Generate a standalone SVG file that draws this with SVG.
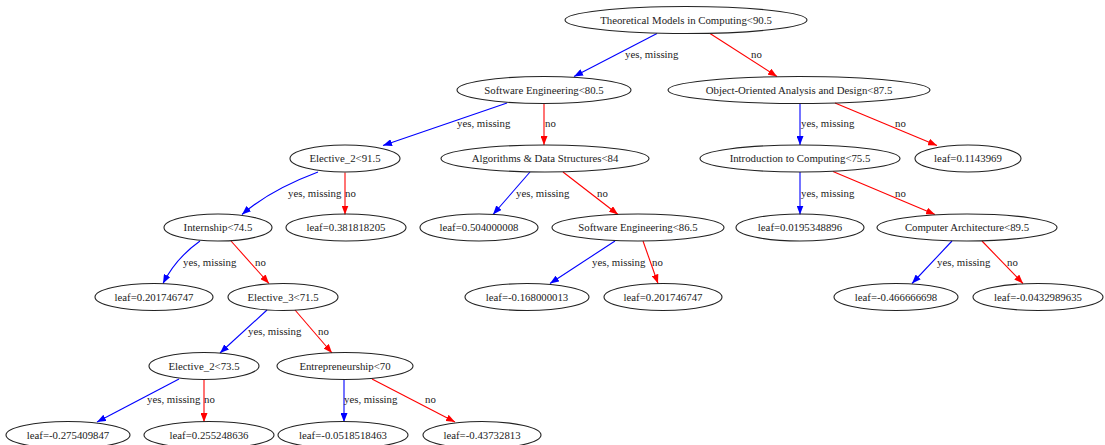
<svg xmlns="http://www.w3.org/2000/svg" width="1105" height="445" viewBox="0 0 1105 445">
<defs>
<style>
.n ellipse{fill:none;stroke:#222;stroke-width:1.1}
.n text{font-family:"Liberation Serif","Times New Roman",serif;font-size:10.8px;fill:#222;text-anchor:middle}
.e path{fill:none;stroke-width:1.1}
.b{stroke:#0000ff}
.r{stroke:#ff0000}
.e text{font-family:"Liberation Serif","Times New Roman",serif;font-size:10.8px;fill:#222}
</style>
<marker id="ab" markerUnits="userSpaceOnUse" markerWidth="9" markerHeight="7" refX="9" refY="3.5" orient="auto"><path d="M0,0 L9,3.5 L0,7 z" fill="#0000ff"/></marker>
<marker id="ar" markerUnits="userSpaceOnUse" markerWidth="9" markerHeight="7" refX="9" refY="3.5" orient="auto"><path d="M0,0 L9,3.5 L0,7 z" fill="#ff0000"/></marker>
</defs>
<rect width="1105" height="445" fill="#fff"/>
<g id="edges" class="e">
<path class="b" d="M657,33.5 L574,76.5" marker-end="url(#ab)"/><text x="625" y="58">yes, missing</text>
<path class="r" d="M710,33.5 L777,76.5" marker-end="url(#ar)"/><text x="751" y="58">no</text>
<path class="b" d="M507,103 L383,145.5" marker-end="url(#ab)"/><text x="457" y="127">yes, missing</text>
<path class="r" d="M544,103.5 L544,145" marker-end="url(#ar)"/><text x="545" y="127">no</text>
<path class="b" d="M800,103.5 L800,145" marker-end="url(#ab)"/><text x="801" y="127">yes, missing</text>
<path class="r" d="M835,103 L937,145.5" marker-end="url(#ar)"/><text x="895" y="127">no</text>
<path class="b" d="M318,172 Q270,190 242,214.5" marker-end="url(#ab)"/><text x="288" y="196.5">yes, missing</text>
<path class="r" d="M345,172.5 L345,214.5" marker-end="url(#ar)"/><text x="345" y="196.5">no</text>
<path class="b" d="M530,172 L493,214.5" marker-end="url(#ab)"/><text x="516" y="196.5">yes, missing</text>
<path class="r" d="M563,172 L618,214.5" marker-end="url(#ar)"/><text x="597" y="196.5">no</text>
<path class="b" d="M800,172 L800,214.5" marker-end="url(#ab)"/><text x="801" y="196.5">yes, missing</text>
<path class="r" d="M833,171.5 L935,214.5" marker-end="url(#ar)"/><text x="895" y="196.5">no</text>
<path class="b" d="M200,241 Q176,258 163,283.5" marker-end="url(#ab)"/><text x="183" y="265.5">yes, missing</text>
<path class="r" d="M231,241 L269,283.5" marker-end="url(#ar)"/><text x="255" y="265.5">no</text>
<path class="b" d="M615,241 L550,283.5" marker-end="url(#ab)"/><text x="592" y="265.5">yes, missing</text>
<path class="r" d="M643,241 L658,283.5" marker-end="url(#ar)"/><text x="652" y="265.5">no</text>
<path class="b" d="M952,241 L912,283.5" marker-end="url(#ab)"/><text x="937" y="265.5">yes, missing</text>
<path class="r" d="M982,241 L1023,283.5" marker-end="url(#ar)"/><text x="1007" y="265.5">no</text>
<path class="b" d="M267,310 L220,353" marker-end="url(#ab)"/><text x="248" y="334.5">yes, missing</text>
<path class="r" d="M295,310 L332,353" marker-end="url(#ar)"/><text x="318" y="334.5">no</text>
<path class="b" d="M179,379 L97,422" marker-end="url(#ab)"/><text x="147" y="403">yes, missing</text>
<path class="r" d="M204,379.5 L204,422" marker-end="url(#ar)"/><text x="204" y="403">no</text>
<path class="b" d="M344,379.5 L344,422" marker-end="url(#ab)"/><text x="344" y="403">yes, missing</text>
<path class="r" d="M372,379 L455,422" marker-end="url(#ar)"/><text x="425" y="403">no</text>
</g>
<g id="n0" class="n"><ellipse cx="686" cy="20" rx="121" ry="13.5"/><text x="686" y="23.8">Theoretical Models in Computing&lt;90.5</text></g>
<g id="n1" class="n"><ellipse cx="544" cy="90" rx="87" ry="13.5"/><text x="544" y="93.8">Software Engineering&lt;80.5</text></g>
<g id="n2" class="n"><ellipse cx="799" cy="90" rx="131" ry="13.5"/><text x="799" y="93.8">Object-Oriented Analysis and Design&lt;87.5</text></g>
<g id="n3" class="n"><ellipse cx="345" cy="158.5" rx="55" ry="13.5"/><text x="345" y="162.3">Elective_2&lt;91.5</text></g>
<g id="n4" class="n"><ellipse cx="545" cy="158.5" rx="104" ry="13.5"/><text x="545" y="162.3">Algorithms &amp; Data Structures&lt;84</text></g>
<g id="n5" class="n"><ellipse cx="800" cy="158.5" rx="100" ry="13.5"/><text x="800" y="162.3">Introduction to Computing&lt;75.5</text></g>
<g id="n6" class="n"><ellipse cx="968" cy="158.5" rx="53" ry="13.5"/><text x="968" y="162.3">leaf=0.1143969</text></g>
<g id="n7" class="n"><ellipse cx="218" cy="227.5" rx="54" ry="13.5"/><text x="218" y="231.3">Internship&lt;74.5</text></g>
<g id="n8" class="n"><ellipse cx="346" cy="227.5" rx="60" ry="13.5"/><text x="346" y="231.3">leaf=0.381818205</text></g>
<g id="n9" class="n"><ellipse cx="479" cy="227.5" rx="59" ry="13.5"/><text x="479" y="231.3">leaf=0.504000008</text></g>
<g id="n10" class="n"><ellipse cx="638" cy="227.5" rx="86" ry="13.5"/><text x="638" y="231.3">Software Engineering&lt;86.5</text></g>
<g id="n11" class="n"><ellipse cx="800" cy="227.5" rx="64" ry="13.5"/><text x="800" y="231.3">leaf=0.0195348896</text></g>
<g id="n12" class="n"><ellipse cx="967" cy="227.5" rx="90" ry="13.5"/><text x="967" y="231.3">Computer Architecture&lt;89.5</text></g>
<g id="n13" class="n"><ellipse cx="154" cy="297" rx="59" ry="13.5"/><text x="154" y="300.8">leaf=0.201746747</text></g>
<g id="n14" class="n"><ellipse cx="283" cy="297" rx="55" ry="13.5"/><text x="283" y="300.8">Elective_3&lt;71.5</text></g>
<g id="n15" class="n"><ellipse cx="527" cy="297" rx="62" ry="13.5"/><text x="527" y="300.8">leaf=-0.168000013</text></g>
<g id="n16" class="n"><ellipse cx="663" cy="297" rx="59" ry="13.5"/><text x="663" y="300.8">leaf=0.201746747</text></g>
<g id="n17" class="n"><ellipse cx="896" cy="297" rx="62" ry="13.5"/><text x="896" y="300.8">leaf=-0.466666698</text></g>
<g id="n18" class="n"><ellipse cx="1038" cy="297" rx="65" ry="13.5"/><text x="1038" y="300.8">leaf=-0.0432989635</text></g>
<g id="n19" class="n"><ellipse cx="204" cy="366" rx="55" ry="13.5"/><text x="204" y="369.8">Elective_2&lt;73.5</text></g>
<g id="n20" class="n"><ellipse cx="345" cy="366" rx="68" ry="13.5"/><text x="345" y="369.8">Entrepreneurship&lt;70</text></g>
<g id="n21" class="n"><ellipse cx="68" cy="435" rx="62" ry="13.5"/><text x="68" y="438.8">leaf=-0.275409847</text></g>
<g id="n22" class="n"><ellipse cx="209" cy="435" rx="65" ry="13.5"/><text x="209" y="438.8">leaf=0.255248636</text></g>
<g id="n23" class="n"><ellipse cx="343" cy="435" rx="65" ry="13.5"/><text x="343" y="438.8">leaf=-0.0518518463</text></g>
<g id="n24" class="n"><ellipse cx="482" cy="435" rx="59" ry="13.5"/><text x="482" y="438.8">leaf=-0.43732813</text></g>
</svg>
